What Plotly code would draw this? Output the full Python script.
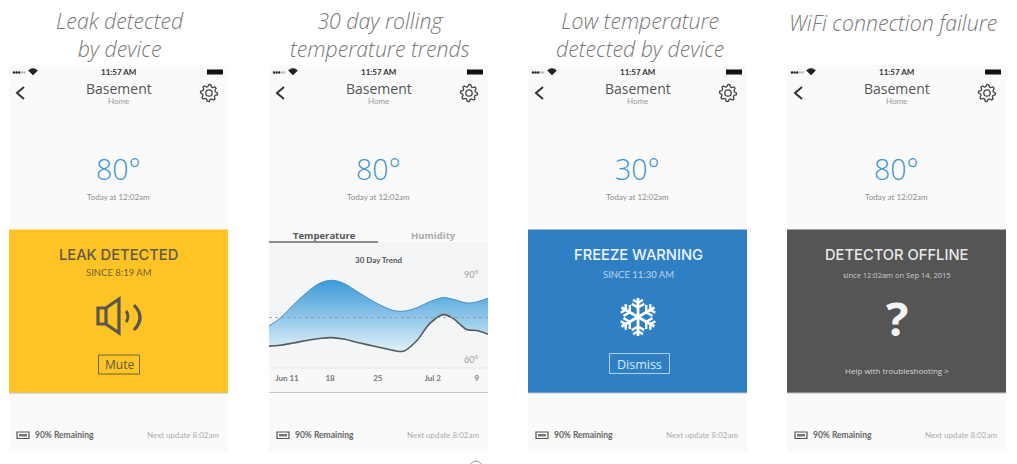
"""Four phone screens showing basement detector alerts, with a 30 day trend chart."""

import math

import plotly.graph_objects as go

# 30 day trend (day 0 is Jun 11)
trend_days = [-2.65, -1.03, 0.93, 2.90, 4.87, 6.59, 8.31, 10.77, 13.23, 15.68, 17.16, 19.13, 21.09, 23.06, 24.53, 26.50, 27.97, 29.65]
trend_high = [72.0, 74.7, 79.4, 83.8, 87.1, 88.1, 87.1, 83.5, 80.0, 77.5, 77.2, 78.4, 80.6, 82.0, 81.4, 80.1, 80.5, 81.8]
trend_low = [64.9, 65.2, 66.0, 66.9, 67.6, 67.9, 67.4, 66.0, 64.7, 63.4, 63.1, 66.8, 72.9, 76.0, 74.6, 70.8, 70.4, 69.1]
set_point = [75, 75]
set_point_days = [-2.65, 29.65]
x_tick_days = [0, 6.35, 13.4, 21.5, 28]
x_tick_labels = ["Jun 11", "18", "25", "Jul 2", "9"]
y_tick_values = [60, 90]
y_tick_labels = ["60°", "90°"]

# Screen text
captions = [
    "Leak detected<br>by device",
    "30 day rolling<br>temperature trends",
    "Low temperature<br>detected by device",
    "WiFi connection failure",
]
caption_centers = [120, 380, 640, 893]
caption_rows = [34.5, 34.5, 34.5, 22]
readings = ["80°", "80°", "30°", "80°"]
panel_lefts = [9, 269, 528, 787]

PANEL_W = 219
FONT = "Lato"
WIDE = "Inter"
GREY = "#555555"

shapes = []
notes = []


def rect(x0, y0, x1, y1, fill="rgba(0,0,0,0)", line=None, width=1):
    shapes.append(dict(type="rect", xref="x", yref="y", x0=x0, y0=y0, x1=x1, y1=y1, layer="below",
                       fillcolor=fill, line=dict(color=line or "rgba(0,0,0,0)", width=width if line else 0)))


def path(d, color, width=1.5, fill="rgba(0,0,0,0)"):
    shapes.append(dict(type="path", xref="x", yref="y", path=d, fillcolor=fill, layer="below",
                       line=dict(color=color, width=width)))


def text(x, y, s, size, color, anchor="center", weight=None, style=None, family=FONT):
    notes.append(dict(xref="x", yref="y", x=x, y=y, text=s, showarrow=False, xanchor=anchor, yanchor="middle",
                      font=dict(size=size, color=color, family=family, weight=weight, style=style)))


def gear(cx, cy, r=8.5, teeth=8):
    pts = []
    for i in range(teeth * 4):
        a = 2 * math.pi * i / (teeth * 4)
        rad = r if i % 4 in (0, 1) else r * 0.76
        pts.append((cx + rad * math.cos(a), cy + rad * math.sin(a)))
    d = "M" + " L".join(f"{x:.2f},{y:.2f}" for x, y in pts) + " Z"
    path(d, "#444444", 1.3)
    shapes.append(dict(type="circle", xref="x", yref="y", x0=cx - 3.2, y0=cy - 3.2, x1=cx + 3.2, y1=cy + 3.2,
                       layer="below", line=dict(color="#444444", width=1.3)))


def snowflake(cx, cy, r=19):
    for i in range(6):
        a = math.pi / 2 + i * math.pi / 3
        ux, uy = math.cos(a), math.sin(a)
        path(f"M{cx:.1f},{cy:.1f} L{cx + r * ux:.1f},{cy + r * uy:.1f}", "white", 2.8)
        for dist, blen in ((0.5, 0.38), (0.75, 0.3)):
            bx, by = cx + r * dist * ux, cy + r * dist * uy
            for side in (-1, 1):
                b = a + side * math.pi / 3
                path(f"M{bx:.1f},{by:.1f} L{bx + r * blen * math.cos(b):.1f},{by + r * blen * math.sin(b):.1f}",
                     "white", 2.4)


def phone(left, reading):
    mid = left + PANEL_W / 2
    rect(left, 65, left + PANEL_W, 451, fill="#fafafa")
    # status bar
    for i in range(5):
        cx = left + 5 + i * 2.6
        shapes.append(dict(type="circle", xref="x", yref="y", x0=cx - 1.2, y0=71.3, x1=cx + 1.2, y1=73.7, layer="below",
                           fillcolor="#222222" if i < 3 else "#bbbbbb", line=dict(width=0)))
    wx = left + 24
    path(f"M{wx - 4.5},70.5 Q{wx},66.5 {wx + 4.5},70.5 L{wx},75 Z", "#222222", 0.6, fill="#222222")
    rect(left + 198, 69.5, left + 214, 74.5, fill="#111111")
    text(mid, 72, "11:57 AM", 8, "#333333", weight=700)
    # header
    path(f"M{left + 15},87 L{left + 8},93 L{left + 15},99", "#333333", 2)
    gear(left + 200, 93)
    text(mid, 88, "Basement", 14, "#555555", family="Open Sans")
    text(mid, 101, "Home", 8, "#999999")
    text(mid, 169, reading, 28.5, "#3f95d3", family="Open Sans", weight=300)
    text(mid, 197, "Today at 12:02am", 8, "#8c8c8c")
    # footer
    rect(left + 8, 432, left + 20, 438.5, line="#555555", width=1.2)
    rect(left + 10, 434, left + 18, 436.5, fill="#777777")
    text(left + 23.5, 435, "90% Remaining", 8.5, "#666666", anchor="left", weight=700)
    text(left + 212, 435, "Next update 8:02am", 8, "#ababab", anchor="right")


for left, reading in zip(panel_lefts, readings):
    phone(left, reading)

for center, row, caption in zip(caption_centers, caption_rows, captions):
    text(center, row, caption, 21.3, "#777777", style="italic", weight=300, family="Open Sans")

# Leak card
x0 = panel_lefts[0]
rect(x0, 229.5, x0 + PANEL_W, 393, fill="#fec325")
path(f"M{x0},393 L{x0 + PANEL_W},393", "#c4c2b8", 1)
text(118.5, 255, "LEAK DETECTED", 14.7, "#5d5a45", family=WIDE, weight=500)
text(118.5, 272, "SINCE 8:19 AM", 9.5, "#6f6535")
path("M98,308 L106,308 L119,299 L119,333 L106,324 L98,324 Z M106,308 L106,324", "#59574d", 3.2)
path("M126,311 Q130,316.5 126,322", "#59574d", 3)
path("M134,305 Q146,317.5 134,330", "#59574d", 3.2)
rect(98.5, 355, 139.5, 374, line="#6d6434", width=1)
text(119, 364.5, "Mute", 12, "#5d5a45", family="Open Sans")

# Trend card
x0 = panel_lefts[1]
rect(x0, 242, x0 + PANEL_W, 368, fill="#f3f5f6")
rect(x0, 368, x0 + PANEL_W, 392, fill="#f8f8f8")
path(f"M{x0},368 L{x0 + PANEL_W},368", "#e6e6e6", 1)
path(f"M{x0},392.5 L{x0 + PANEL_W},392.5", "#c8c8c8", 1.2)
path(f"M{x0},242 L378,242", "#666666", 1.4)
text(324, 235, "Temperature", 9.5, "#555555", weight=700, family="Open Sans")
text(433, 235, "Humidity", 9.5, "#aaaaaa", weight=700, family="Open Sans")
text(379, 260, "30 Day Trend", 8, "#555555", weight=700)

# Freeze card
x0 = panel_lefts[2]
rect(x0, 229.5, x0 + PANEL_W, 393, fill="#2f7fc4")
path(f"M{x0},393 L{x0 + PANEL_W},393", "#b9c4cc", 1)
text(638, 255, "FREEZE WARNING", 14.7, "#eef5fb", family=WIDE, weight=500)
text(638, 274, "SINCE 11:30 AM", 9.5, "#bcd5ec")
snowflake(638, 317)
rect(609.5, 353.5, 669.5, 373.5, line="#b5d1ea", width=1)
text(639.5, 364, "Dismiss", 12.5, "#dcebf7", family="Open Sans")

# Offline card
x0 = panel_lefts[3]
rect(x0, 229.5, x0 + PANEL_W, 393, fill=GREY)
path(f"M{x0},393 L{x0 + PANEL_W},393", "#bbbbbb", 1)
text(896.5, 255, "DETECTOR OFFLINE", 14.7, "#e8e8e8", family=WIDE, weight=500)
text(897, 275, "since 12:02am on Sep 14, 2015", 7.5, "#cccccc", family="Open Sans")
text(897, 318, "?", 47, "#f4f4f4", weight=700, family="Open Sans")
text(897, 370, "Help with troubleshooting >", 8, "#d6d6d6", family="Open Sans")

# cut-off mark at the bottom edge of the page
shapes.append(dict(type="circle", xref="x", yref="y", x0=470, y0=461, x1=482, y1=473,
                   line=dict(color="#999999", width=1)))

fig = go.Figure()

fig.add_trace(go.Scatter(x=trend_days, y=trend_low, xaxis="x2", yaxis="y2", mode="lines",
                         line=dict(color="#555a5e", width=1.6, shape="spline", smoothing=1), hoverinfo="skip"))
fig.add_trace(go.Scatter(
    x=trend_days, y=trend_high, xaxis="x2", yaxis="y2", mode="lines", fill="tonexty",
    line=dict(color="#3f8fc8", width=1, shape="spline", smoothing=1), hoverinfo="skip",
    fillgradient=dict(type="vertical", start=63, stop=88,
                      colorscale=[[0, "#e3f1f9"], [0.5, "#8cc5e8"], [1, "#3d9ad6"]]),
))
fig.add_trace(go.Scatter(x=set_point_days, y=set_point, xaxis="x2", yaxis="y2", mode="lines",
                         line=dict(color="#8a979e", width=0.8, dash="dot"), hoverinfo="skip"))

fig.update_layout(
    width=1017,
    height=464,
    margin=dict(l=0, r=0, t=0, b=0),
    paper_bgcolor="white",
    plot_bgcolor="rgba(0,0,0,0)",
    showlegend=False,
    shapes=shapes,
    annotations=notes,
    # page-sized axes in pixels, used for the phone screens
    xaxis=dict(range=[0, 1017], domain=[0, 1], visible=False, fixedrange=True),
    yaxis=dict(range=[464, 0], domain=[0, 1], visible=False, fixedrange=True),
    xaxis2=dict(
        domain=[269 / 1017, 488 / 1017], range=[-2.65, 29.65], anchor="y2",
        tickvals=x_tick_days, ticktext=x_tick_labels, showgrid=False, zeroline=False, showline=False,
        ticks="outside", ticklen=2, tickcolor="rgba(0,0,0,0)",
        tickfont=dict(size=8, color="#777777", family=FONT, weight=700),
    ),
    yaxis2=dict(
        domain=[1 - 368 / 464, 1 - 242 / 464], range=[57.2, 101.6], anchor="free", position=463 / 1017,
        side="right",
        tickvals=y_tick_values, ticktext=y_tick_labels, showgrid=False, zeroline=False, showline=False,
        ticks="", tickfont=dict(size=9, color="#a0a0a0", family=FONT),
    ),
)

fig.write_html("out.html", config=dict(displayModeBar=False),
               post_script="document.body.style.margin='0';")
